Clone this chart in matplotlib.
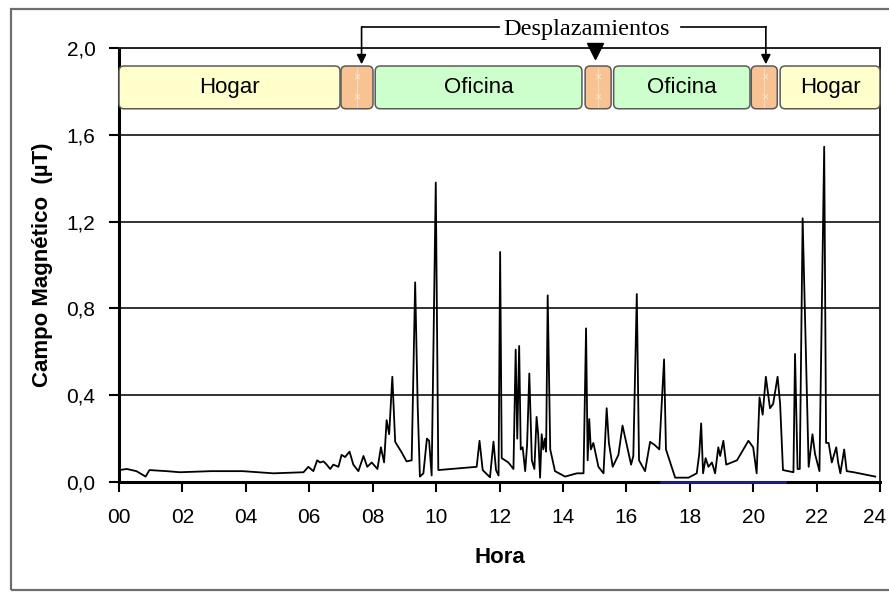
import matplotlib
matplotlib.use('Agg')
import matplotlib.pyplot as plt
from matplotlib.patches import FancyBboxPatch, Rectangle
from matplotlib.transforms import ScaledTranslation

# ---------------- data ----------------
hours = [0.00, 0.25, 0.55, 0.84, 0.96, 1.50, 1.92, 2.90, 3.90, 4.87, 5.82, 5.97,
         6.13, 6.25, 6.34, 6.45, 6.55, 6.66, 6.76, 6.92, 7.02, 7.13, 7.27, 7.39,
         7.55, 7.71, 7.83, 7.97, 8.15, 8.26, 8.36, 8.44, 8.52, 8.62, 8.71, 8.90,
         9.07, 9.23, 9.34, 9.42, 9.49, 9.60, 9.71, 9.78, 9.86, 9.99, 10.07, 11.28,
         11.37, 11.47, 11.70, 11.81, 11.89, 11.97, 12.02, 12.07, 12.28, 12.44, 12.51, 12.56,
         12.62, 12.67, 12.73, 12.81, 12.87, 12.94, 13.02, 13.10, 13.17, 13.22, 13.28, 13.33,
         13.38, 13.43, 13.47, 13.52, 13.60, 13.75, 14.07, 14.44, 14.65, 14.73, 14.78, 14.83,
         14.88, 14.96, 15.12, 15.28, 15.38, 15.45, 15.57, 15.75, 15.88, 16.00, 16.15, 16.22,
         16.33, 16.40, 16.59, 16.75, 16.90, 17.04, 17.19, 17.25, 17.54, 17.96, 18.22, 18.30,
         18.36, 18.42, 18.50, 18.59, 18.70, 18.80, 18.90, 18.96, 19.06, 19.15, 19.49, 19.85,
         20.00, 20.11, 20.20, 20.30, 20.40, 20.53, 20.63, 20.77, 20.85, 20.94, 21.27, 21.32,
         21.40, 21.47, 21.56, 21.75, 21.87, 21.95, 22.09, 22.24, 22.30, 22.38, 22.48, 22.62,
         22.68, 22.75, 22.87, 22.95, 23.17, 23.85]
campo = [0.055, 0.060, 0.050, 0.025, 0.055, 0.050, 0.045, 0.050, 0.050, 0.040, 0.045, 0.070,
         0.050, 0.100, 0.090, 0.095, 0.080, 0.060, 0.080, 0.070, 0.125, 0.115, 0.140, 0.080,
         0.050, 0.120, 0.070, 0.090, 0.060, 0.160, 0.090, 0.285, 0.220, 0.485, 0.185, 0.140,
         0.095, 0.100, 0.920, 0.350, 0.025, 0.040, 0.200, 0.190, 0.030, 1.380, 0.055, 0.070,
         0.190, 0.055, 0.022, 0.186, 0.055, 0.030, 1.060, 0.110, 0.090, 0.060, 0.610, 0.200,
         0.627, 0.150, 0.160, 0.050, 0.170, 0.500, 0.100, 0.060, 0.300, 0.220, 0.020, 0.220,
         0.150, 0.200, 0.140, 0.860, 0.150, 0.050, 0.025, 0.040, 0.040, 0.708, 0.100, 0.290,
         0.150, 0.180, 0.070, 0.040, 0.340, 0.180, 0.070, 0.125, 0.260, 0.180, 0.080, 0.120,
         0.866, 0.100, 0.050, 0.185, 0.170, 0.150, 0.565, 0.150, 0.020, 0.020, 0.040, 0.130,
         0.270, 0.040, 0.110, 0.070, 0.090, 0.040, 0.160, 0.120, 0.190, 0.080, 0.100, 0.190,
         0.160, 0.040, 0.390, 0.310, 0.485, 0.340, 0.360, 0.485, 0.360, 0.055, 0.045, 0.590,
         0.060, 0.060, 1.215, 0.070, 0.220, 0.130, 0.050, 1.545, 0.180, 0.180, 0.090, 0.160,
         0.090, 0.040, 0.150, 0.050, 0.045, 0.025]

seg_labels = ['Hogar', '', 'Oficina', '', 'Oficina', '', 'Hogar']
seg_kind = ['hogar', 'viaje', 'oficina', 'viaje', 'oficina', 'viaje', 'hogar']
seg_start = [0.0, 7.0, 8.08, 14.7, 15.6, 19.94, 20.85]
seg_end = [6.97, 8.01, 14.6, 15.52, 19.9, 20.76, 24.0]
arrow_hours = [7.65, 15.0, 20.4]
blue_start, blue_end = 17.1, 21.0

x_ticks = list(range(0, 25, 2))
x_labels = ['%02d' % h for h in x_ticks]
y_ticks = [0.0, 0.4, 0.8, 1.2, 1.6, 2.0]
y_labels = ['0,0', '0,4', '0,8', '1,2', '1,6', '2,0']

# ---------------- figure ----------------
plt.rcParams['font.family'] = ['Liberation Sans', 'DejaVu Sans']
W, H = 889, 592
fig = plt.figure(figsize=(W / 100, H / 100), dpi=100)
fig.patch.set_facecolor('white')
ax = fig.add_axes([119 / W, 1 - 482 / H, 761 / W, 434 / H])

# outer frame
fig.add_artist(Rectangle((11 / W, 2 / H), 1.0, 1 - 11 / H, transform=fig.transFigure,
                         fill=False, edgecolor='#6e6e6e', lw=1.6, clip_on=False))

ax.plot(hours, campo, color='black', lw=1.3, zorder=3)
ax.plot([blue_start, blue_end], [0, 0], color='#23238a', lw=1.8, clip_on=False, zorder=6)

ax.set_xlim(0, 24)
ax.set_ylim(0, 2.0)
ax.set_xticks(x_ticks)
ax.set_xticklabels(x_labels)
ax.set_yticks(y_ticks)
ax.set_yticklabels(y_labels)
ax.yaxis.grid(True, color='#222222', lw=1.3)
ax.set_axisbelow(True)
ax.tick_params(axis='both', direction='out', length=7, width=1.5, labelsize=15,
               colors='black')
ax.tick_params(axis='y', pad=10)
ax.tick_params(axis='x', pad=12)
for s in ['left', 'bottom']:
    ax.spines[s].set_linewidth(2.2)
for s in ['right', 'top']:
    ax.spines[s].set_linewidth(1.4)
    ax.spines[s].set_color('#222222')

ax.set_xlabel('Hora', fontsize=16, fontweight='bold', labelpad=14)
ax.set_ylabel('Campo Magnético  (µT)', fontsize=16, fontweight='bold')
ax.yaxis.label.set_va('center')
ax.yaxis.set_label_coords(-0.10, 0.5)

# keep the last hour label inside the picture, as in the reference
last = ax.get_xticklabels()[-1]
last.set_transform(last.get_transform() + ScaledTranslation(-5 / 100, 0, fig.dpi_scale_trans))

# activity bands
fills = {'hogar': '#FFFFCC', 'oficina': '#CCFFCC', 'viaje': '#F8C293'}
box_bottom, box_h = 1.72, 0.197
aspect = (1 / 217) / (1 / 31.7)
for lab, kind, s, e in zip(seg_labels, seg_kind, seg_start, seg_end):
    p = FancyBboxPatch((s, box_bottom), e - s, box_h,
                       boxstyle='round,pad=0,rounding_size=0.16', mutation_aspect=aspect,
                       fc=fills[kind], ec='#5a5a5a', lw=1.1, clip_on=False, zorder=4)
    ax.add_patch(p)
    mid = (s + e) / 2
    if lab:
        ax.text(mid, box_bottom + box_h / 2, lab, ha='center', va='center',
                fontsize=16, zorder=5)
    else:
        ax.plot([mid, mid], [box_bottom + 0.01, box_bottom + box_h - 0.01],
                color='#f3dcc6', lw=0.8, zorder=5)
        for yy in (box_bottom + box_h * 0.73, box_bottom + box_h * 0.27):
            ax.text(mid, yy, '×', ha='center', va='center', fontsize=9,
                    color='#fbe6d2', zorder=5)

# "Desplazamientos" bracket
y_br = 2.097
ax.text(14.73, 2.083, 'Desplazamientos', ha='center', va='center', fontsize=17.5,
        family=['Liberation Serif', 'DejaVu Serif'], clip_on=False)
ax.plot([arrow_hours[0], 11.98], [y_br, y_br], color='black', lw=1.2, clip_on=False)
ax.plot([17.72, arrow_hours[2]], [y_br, y_br], color='black', lw=1.2, clip_on=False)
for xa in (arrow_hours[0], arrow_hours[2]):
    ax.annotate('', xy=(xa, 1.925), xytext=(xa, y_br),
                arrowprops=dict(arrowstyle='-|>', color='black', lw=1.2,
                                mutation_scale=14, shrinkA=0, shrinkB=0),
                annotation_clip=False)
ax.plot([arrow_hours[1]], [1.985], marker='v', markersize=11, color='black',
        clip_on=False, zorder=6)

fig.savefig('out.png', dpi=100)
